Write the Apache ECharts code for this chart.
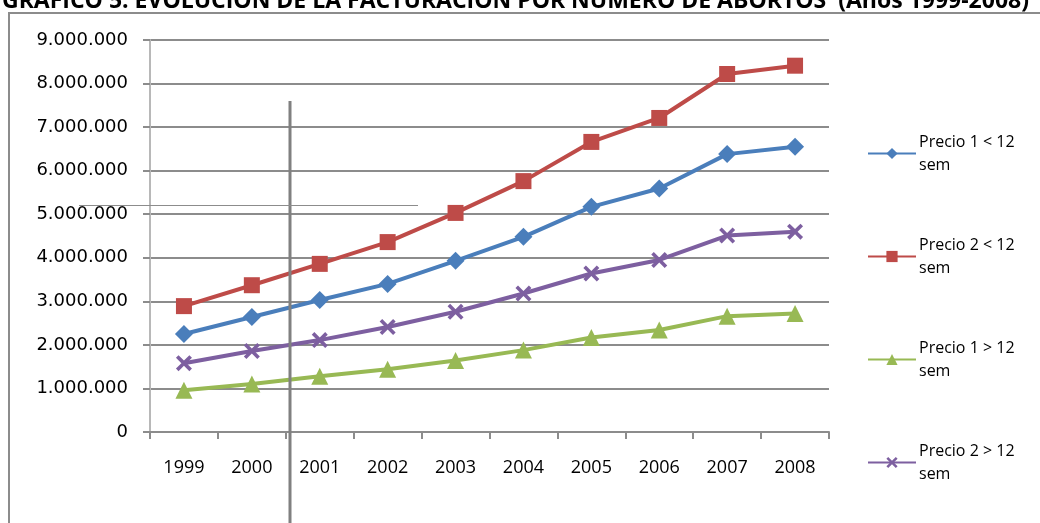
<!DOCTYPE html>
<html><head><meta charset="utf-8">
<script src="https://cdn.jsdelivr.net/npm/echarts@6/dist/echarts.min.js"></script>
<style>html,body{margin:0;padding:0;background:#fff}#c{width:1040px;height:523px}</style>
</head><body><div id="c"></div>
<script>
var years = ['1999','2000','2001','2002','2003','2004','2005','2006','2007','2008'];
var precio1Menor = [2250000, 2640000, 3030000, 3400000, 3930000, 4480000, 5170000, 5590000, 6380000, 6550000];
var precio2Menor = [2890000, 3370000, 3860000, 4360000, 5030000, 5760000, 6660000, 7210000, 8220000, 8410000];
var precio1Mayor = [960000, 1100000, 1280000, 1440000, 1640000, 1880000, 2170000, 2340000, 2660000, 2720000];
var precio2Mayor = [1580000, 1860000, 2110000, 2410000, 2760000, 3180000, 3640000, 3950000, 4510000, 4600000];
var seriesNames = ['Precio 1 < 12 sem', 'Precio 2 < 12 sem', 'Precio 1 > 12 sem', 'Precio 2 > 12 sem'];
var titleText = 'GRÁFICO 5: EVOLUCIÓN DE LA FACTURACIÓN POR NÚMERO DE ABORTOS  (Años 1999-2008)';

var chart = echarts.init(document.getElementById('c'));
var font = 'Open Sans';
var xSym = 'path://M0,1.6L1.6,0L5,3.4L8.4,0L10,1.6L6.6,5L10,8.4L8.4,10L5,6.6L1.6,10L0,8.4L3.4,5Z';
function fmt(v){ return String(v).replace(/\B(?=(\d{3})+(?!\d))/g, '.'); }
function mk(name, data, color, symbol, size){
  return { name: name, type: 'line', data: data, symbol: symbol, symbolSize: size,
    lineStyle: { color: color, width: 4 }, itemStyle: { color: color }, z: 3, animation: false };
}
chart.setOption({
  animation: false,
  grid: { left: 150, right: 211, top: 40, bottom: 91 },
  legend: {
    orient: 'vertical', left: 867, top: 119, padding: 0, itemGap: 34,
    itemWidth: 48, itemHeight: 14,
    data: seriesNames,
    formatter: function(n){ return n.replace(' sem', '\nsem'); },
    textStyle: { fontFamily: font, fontSize: 16, color: '#000', lineHeight: 23, padding: [23,0,0,-2] }
  },
  xAxis: {
    type: 'category', data: years, boundaryGap: true,
    axisLine: { lineStyle: { color: '#8c8c8c', width: 2 } },
    axisTick: { show: true, length: 7, lineStyle: { color: '#8c8c8c', width: 2 } },
    axisLabel: { fontFamily: font, fontSize: 18, color: '#000', margin: 27 }
  },
  yAxis: {
    type: 'value', min: 0, max: 9000000, interval: 1000000,
    axisLine: { show: true, lineStyle: { color: '#b8b8b8', width: 2 } },
    axisTick: { show: true, length: 7, lineStyle: { color: '#8c8c8c', width: 2 } },
    splitLine: { lineStyle: { color: '#8c8c8c', width: 2 } },
    axisLabel: { fontFamily: 'DejaVu Sans', fontSize: 18, color: '#000', margin: 22, formatter: fmt }
  },
  series: [
    mk(seriesNames[0], precio1Menor, '#4a7ebb', 'diamond', 18),
    mk(seriesNames[1], precio2Menor, '#be4b48', 'rect', 16),
    mk(seriesNames[2], precio1Mayor, '#98b954', 'triangle', 17),
    mk(seriesNames[3], precio2Mayor, '#7d5fa0', xSym, 16)
  ],
  graphic: [
    { type: 'rect', shape: { x: 9, y: 13, width: 1200, height: 700 }, style: { fill: 'none', stroke: '#8c8c8c', lineWidth: 2 }, z: 10, silent: true },
    { type: 'line', shape: { x1: 290, y1: 101, x2: 290, y2: 523 }, style: { stroke: '#808080', lineWidth: 3 }, z: 10, silent: true },
    { type: 'line', shape: { x1: 79, y1: 205.5, x2: 418, y2: 205.5 }, style: { stroke: '#8c8c8c', lineWidth: 1 }, z: 10, silent: true },
    { type: 'text', left: 2, top: -10, style: { text: titleText, fontFamily: font, fontWeight: 'bold', fontSize: 23, fill: '#000' }, z: 11, silent: true }
  ]
});
</script></body></html>
